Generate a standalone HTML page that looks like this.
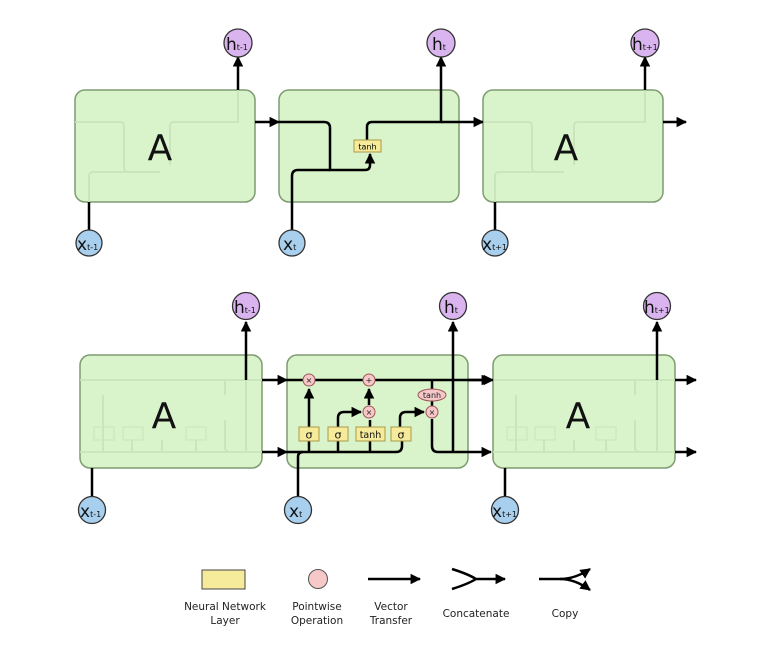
<!DOCTYPE html>
<html><head><meta charset="utf-8"><style>
html,body{margin:0;padding:0;background:#fff}
svg{display:block}
text{font-family:"DejaVu Sans","Liberation Sans",sans-serif}
</style></head><body>
<svg width="759" height="656" viewBox="0 0 759 656" xmlns="http://www.w3.org/2000/svg">
<defs>
<marker id="ar" viewBox="0 0 10 10" refX="9" refY="5" markerWidth="4.2" markerHeight="4.2" orient="auto"><path d="M0,0 L10,5 L0,10 z" fill="#000"/></marker>
</defs>
<g fill="none" stroke="#000" stroke-width="2.5">
<rect x="75" y="90" width="180" height="112" rx="10" fill="#d9f3cb" stroke="#7e9c70" stroke-width="1.5"/>
<rect x="279" y="90" width="180" height="112" rx="10" fill="#d9f3cb" stroke="#7e9c70" stroke-width="1.5"/>
<rect x="483" y="90" width="180" height="112" rx="10" fill="#d9f3cb" stroke="#7e9c70" stroke-width="1.5"/>
<g stroke="#c9e3bc" stroke-width="1.8">
<path d="M75,122 H120 Q124,122 124,126 V168 Q124,172 128,172 H160"/>
<path d="M89,202 V176 Q89,172 93,172 H160 M170,165 V126 Q170,122 174,122 H238 V90"/>
<path d="M483,122 H528 Q532,122 532,126 V168 Q532,172 536,172 H564"/>
<path d="M495,202 V176 Q495,172 499,172 H564 M574,165 V126 Q574,122 578,122 H645 V90"/>
</g>
<path d="M238,90 V57" marker-end="url(#ar)"/>
<path d="M645,90 V57" marker-end="url(#ar)"/>
<path d="M89,202 V230"/>
<path d="M495,202 V230"/>
<path d="M255,122 H279" marker-end="url(#ar)"/>
<path d="M279,122 H324 Q330,122 330,128 V170 H365 Q370,170 370,165 V154" marker-end="url(#ar)"/>
<path d="M292,230 V176 Q292,170 298,170 H330"/>
<path d="M367,140 V127 Q367,122 372,122 H441 V57" marker-end="url(#ar)"/>
<path d="M441,122 H483" marker-end="url(#ar)"/>
<path d="M663,122 H686" marker-end="url(#ar)"/>
</g>
<rect x="354" y="140" width="27" height="12" fill="#f6eb9a" stroke="#a99a48" stroke-width="1"/>
<text x="367.5" y="149.5" font-size="8" text-anchor="middle">tanh</text>

<g stroke="#333" stroke-width="1.3">
<circle cx="238" cy="43" r="14" fill="#dab4ee"/>
<circle cx="441" cy="43" r="14" fill="#dab4ee"/>
<circle cx="645" cy="43" r="14" fill="#dab4ee"/>
<circle cx="89" cy="243" r="13" fill="#a8d0ee"/>
<circle cx="292" cy="243" r="13" fill="#a8d0ee"/>
<circle cx="495" cy="243" r="13" fill="#a8d0ee"/>
</g>
<g font-size="17" fill="#111">
<text x="226" y="50">h<tspan font-size="8">t-1</tspan></text>
<text x="432" y="50">h<tspan font-size="8">t</tspan></text>
<text x="632" y="50">h<tspan font-size="8">t+1</tspan></text>
<text x="77" y="250">x<tspan font-size="8">t-1</tspan></text>
<text x="283" y="250">x<tspan font-size="8">t</tspan></text>
<text x="482" y="250">x<tspan font-size="8">t+1</tspan></text>
</g>
<text x="160" y="160" font-size="36" text-anchor="middle" fill="#111">A</text>
<text x="566" y="160" font-size="36" text-anchor="middle" fill="#111">A</text>

<g fill="none" stroke="#000" stroke-width="2.5">
<rect x="80" y="355" width="182" height="113" rx="10" fill="#d9f3cb" stroke="#7e9c70" stroke-width="1.5"/>
<rect x="287" y="355" width="181" height="113" rx="10" fill="#d9f3cb" stroke="#7e9c70" stroke-width="1.5"/>
<rect x="493" y="355" width="182" height="113" rx="10" fill="#d9f3cb" stroke="#7e9c70" stroke-width="1.5"/>
<g stroke="#c9e3bc" stroke-width="1.8">
<path d="M80,380 H262 M80,452 H230 M225,380 V395 M225,420 V447 Q225,452 230,452 H262 M246,355 V452 M103,452 V395 M132,452 V440 M162,452 V440 M196,452 V440"/>
<path d="M493,380 H675 M493,452 H640 M635,380 V395 M635,420 V447 Q635,452 640,452 H675 M657,355 V452 M516,452 V395 M544,452 V440 M574,452 V440 M606,452 V440"/>
<rect x="94" y="427" width="20" height="13" stroke-width="1"/><rect x="123" y="427" width="20" height="13" stroke-width="1"/><rect x="186" y="427" width="20" height="13" stroke-width="1"/>
<rect x="507" y="427" width="20" height="13" stroke-width="1"/><rect x="535" y="427" width="20" height="13" stroke-width="1"/><rect x="596" y="427" width="20" height="13" stroke-width="1"/>
</g>
<path d="M246,380 V322" marker-end="url(#ar)"/>
<path d="M657,380 V322" marker-end="url(#ar)"/>
<path d="M92,468 V497"/>
<path d="M505,468 V497"/>
<path d="M262,380 H287" marker-end="url(#ar)"/>
<path d="M262,452 H287" marker-end="url(#ar)"/>
<path d="M468,380 H493" marker-end="url(#ar)"/>
<path d="M675,380 H696" marker-end="url(#ar)"/>
<path d="M675,452 H696" marker-end="url(#ar)"/>
<path d="M287,380 H491" marker-end="url(#ar)"/>
<path d="M287,452 H396 Q402,452 402,446 V441"/>
<path d="M298,497 V457 Q298,452 303,452"/>
<path d="M309,452 V389" marker-end="url(#ar)"/>
<path d="M338,452 V418 Q338,412 344,412 H361" marker-end="url(#ar)"/>
<path d="M370,452 V420"/>
<path d="M369,405 V389" marker-end="url(#ar)"/>
<path d="M400,427 V418 Q400,412 406,412 H424" marker-end="url(#ar)"/>
<path d="M432,380 V390"/>
<path d="M432,400 V406"/>
<path d="M432,419 V446 Q432,452 438,452 H491" marker-end="url(#ar)"/>
<path d="M453,452 V322" marker-end="url(#ar)"/>
</g>
<g stroke="#a99a48" stroke-width="1" fill="#f6eb9a">
<rect x="299" y="427" width="20" height="14"/>
<rect x="328" y="427" width="20" height="14"/>
<rect x="356" y="427" width="29" height="14"/>
<rect x="391" y="427" width="20" height="14"/>
</g>
<g font-size="11" text-anchor="middle" fill="#111">
<text x="309" y="438.5">σ</text><text x="338" y="438.5">σ</text>
<text x="370.5" y="438" font-size="9.5">tanh</text><text x="401" y="438.5">σ</text>
</g>
<g stroke="#a0555a" stroke-width="1" fill="#f6c8c8">
<circle cx="309" cy="380" r="6"/>
<circle cx="369" cy="380" r="6"/>
<circle cx="369" cy="412" r="6"/>
<circle cx="432" cy="412" r="6"/>
<ellipse cx="432" cy="395" rx="14" ry="6"/>
</g>
<g font-size="8" text-anchor="middle" fill="#222">
<text x="309" y="383">×</text><text x="369" y="383">+</text>
<text x="369" y="415">×</text><text x="432" y="415">×</text>
<text x="432" y="398">tanh</text>
</g>
<g stroke="#333" stroke-width="1.3">
<circle cx="246" cy="306" r="13.5" fill="#dab4ee"/>
<circle cx="453" cy="306" r="13.5" fill="#dab4ee"/>
<circle cx="657" cy="306" r="13.5" fill="#dab4ee"/>
<circle cx="92" cy="510" r="13.5" fill="#a8d0ee"/>
<circle cx="298" cy="510" r="13.5" fill="#a8d0ee"/>
<circle cx="505" cy="510" r="13.5" fill="#a8d0ee"/>
</g>
<g font-size="17" fill="#111">
<text x="234" y="313">h<tspan font-size="8">t-1</tspan></text>
<text x="444" y="313">h<tspan font-size="8">t</tspan></text>
<text x="644" y="313">h<tspan font-size="8">t+1</tspan></text>
<text x="80" y="517">x<tspan font-size="8">t-1</tspan></text>
<text x="289" y="517">x<tspan font-size="8">t</tspan></text>
<text x="492" y="517">x<tspan font-size="8">t+1</tspan></text>
</g>
<text x="164" y="428" font-size="36" text-anchor="middle" fill="#111">A</text>
<text x="578" y="428" font-size="36" text-anchor="middle" fill="#111">A</text>

<rect x="202" y="570" width="43" height="19" fill="#f6eb9a" stroke="#444" stroke-width="1"/>
<circle cx="318" cy="579" r="9.5" fill="#f6c8c8" stroke="#555" stroke-width="1"/>
<g fill="none" stroke="#000" stroke-width="2.5">
<path d="M368,579 H420" marker-end="url(#ar)"/>
<path d="M452,569 Q468,574 476,579 Q468,584 452,589 M476,579 H505" marker-end="url(#ar)"/>
<path d="M539,579 H560 Q575,579 590,569" marker-end="url(#ar)"/>
<path d="M560,579 Q575,579 590,590" marker-end="url(#ar)"/>
</g>
<g font-size="10.5" text-anchor="middle" fill="#222">
<text x="225" y="610">Neural Network</text><text x="225" y="624">Layer</text>
<text x="317" y="610">Pointwise</text><text x="317" y="624">Operation</text>
<text x="391" y="610">Vector</text><text x="391" y="624">Transfer</text>
<text x="476" y="617">Concatenate</text>
<text x="565" y="617">Copy</text>
</g>
</svg>
</body></html>
